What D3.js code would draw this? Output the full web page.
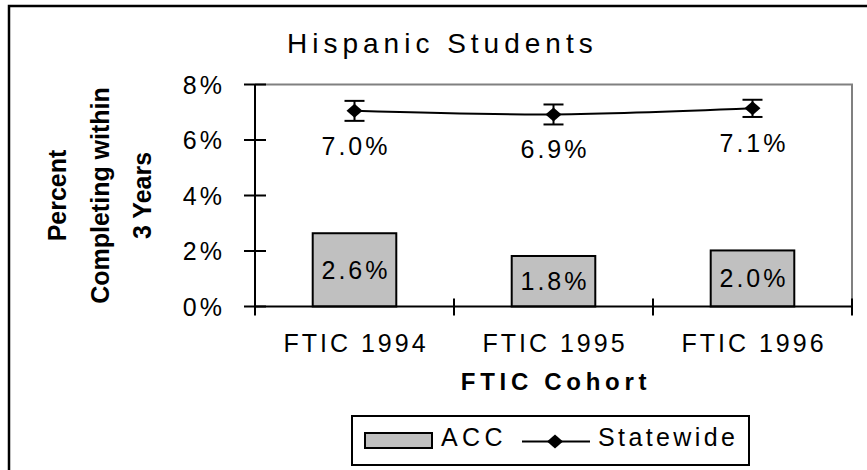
<!DOCTYPE html>
<html>
<head>
<meta charset="utf-8">
<script src="https://cdn.jsdelivr.net/npm/d3@7"></script>
<style>
  body { margin: 0; background: #fff; }
  svg text { font-family: "Liberation Sans", Arial, sans-serif; fill: #000; }
</style>
</head>
<body>
<svg id="chart" width="867" height="470"></svg>
<script>
const cohorts = ["FTIC 1994", "FTIC 1995", "FTIC 1996"]
const accValues = [0.0264, 0.0182, 0.0202]
const statewideValues = [0.0705, 0.0692, 0.0714]
const statewideErr = [0.0036, 0.0036, 0.0031]
const yTicks = [0, 0.02, 0.04, 0.06, 0.08]

const svg = d3.select('#chart')

// frame round the whole chart (only top and left show in the picture)
svg.append('path')
  .attr('d', 'M9,470 V6 H867')
  .attr('fill', 'none')
  .attr('stroke', '#000')
  .attr('stroke-width', 2.5)

const plotL = 255, plotR = 852, plotT = 84.5, plotB = 306.5

const x = d3.scaleBand()
  .domain(cohorts)
  .range([plotL, plotR])

const y = d3.scaleLinear()
  .domain([0, 0.08])
  .range([plotB, plotT])

const barW = x.bandwidth() * 0.42
const pct = d3.format('.1%')
const cx = d => x(d) + x.bandwidth() / 2

// plot border, gray on top and right
svg.append('path')
  .attr('d', `M${plotL},${plotT} H${plotR} V${plotB}`)
  .attr('fill', 'none')
  .attr('stroke', '#808080')
  .attr('stroke-width', 2)

// bars
svg.append('g')
  .selectAll('rect')
  .data(cohorts)
  .join('rect')
  .attr('x', (d) => cx(d) - barW / 2)
  .attr('y', (d, i) => y(accValues[i]))
  .attr('width', barW)
  .attr('height', (d, i) => y(0) - y(accValues[i]))
  .attr('fill', '#c0c0c0')
  .attr('stroke', '#000')
  .attr('stroke-width', 2)

svg.append('g')
  .selectAll('text')
  .data(cohorts)
  .join('text')
  .attr('x', d => cx(d) + 1.5)
  .attr('y', (d, i) => (y(accValues[i]) + y(0)) / 2)
  .attr('dy', '0.36em')
  .attr('text-anchor', 'middle')
  .style('font-size', '25px')
  .style('letter-spacing', '3px')
  .text((d, i) => pct(accValues[i]))

// y axis
const yAxis = svg.append('g')
yAxis.append('line')
  .attr('x1', plotL).attr('x2', plotL)
  .attr('y1', plotT).attr('y2', plotB)
  .attr('stroke', '#000').attr('stroke-width', 2)
yAxis.selectAll('line.tick')
  .data(yTicks)
  .join('line')
  .attr('class', 'tick')
  .attr('x1', plotL - 11).attr('x2', plotL + 11)
  .attr('y1', d => y(d)).attr('y2', d => y(d))
  .attr('stroke', '#000').attr('stroke-width', 2)
yAxis.selectAll('text')
  .data(yTicks)
  .join('text')
  .attr('x', 225)
  .attr('y', d => y(d))
  .attr('dy', '0.36em')
  .attr('text-anchor', 'end')
  .style('font-size', '25px')
  .style('letter-spacing', '3px')
  .text(d => d3.format('.0%')(d))

// x axis
const xAxis = svg.append('g')
xAxis.append('line')
  .attr('x1', plotL).attr('x2', plotR)
  .attr('y1', plotB).attr('y2', plotB)
  .attr('stroke', '#000').attr('stroke-width', 2)
xAxis.selectAll('line.tick')
  .data(cohorts.map(d => x(d)).concat([plotR]))
  .join('line')
  .attr('class', 'tick')
  .attr('x1', d => d).attr('x2', d => d)
  .attr('y1', plotB - 8).attr('y2', plotB + 9)
  .attr('stroke', '#000').attr('stroke-width', 2)
xAxis.selectAll('text')
  .data(cohorts)
  .join('text')
  .attr('x', d => cx(d) + 1.5)
  .attr('y', 352)
  .attr('text-anchor', 'middle')
  .style('font-size', '25px')
  .style('letter-spacing', '3px')
  .text(d => d)

// statewide line with error bars
const line = d3.line()
  .x((d, i) => cx(cohorts[i]))
  .y(d => y(d))
  .curve(d3.curveCatmullRom)

svg.append('path')
  .datum(statewideValues)
  .attr('d', line)
  .attr('fill', 'none')
  .attr('stroke', '#000')
  .attr('stroke-width', 2)

const err = svg.append('g')
  .selectAll('g')
  .data(cohorts)
  .join('g')
  .attr('stroke', '#000')
  .attr('stroke-width', 2)
err.append('line')
  .attr('x1', d => cx(d)).attr('x2', d => cx(d))
  .attr('y1', (d, i) => y(statewideValues[i] + statewideErr[i]))
  .attr('y2', (d, i) => y(statewideValues[i] - statewideErr[i]))
err.append('line')
  .attr('x1', d => cx(d) - 10).attr('x2', d => cx(d) + 10)
  .attr('y1', (d, i) => y(statewideValues[i] + statewideErr[i]))
  .attr('y2', (d, i) => y(statewideValues[i] + statewideErr[i]))
err.append('line')
  .attr('x1', d => cx(d) - 10).attr('x2', d => cx(d) + 10)
  .attr('y1', (d, i) => y(statewideValues[i] - statewideErr[i]))
  .attr('y2', (d, i) => y(statewideValues[i] - statewideErr[i]))

const diamond = (px, py, w, h) => `M${px - w},${py} L${px},${py - h} L${px + w},${py} L${px},${py + h} Z`

svg.append('g')
  .selectAll('path')
  .data(cohorts)
  .join('path')
  .attr('d', (d, i) => diamond(cx(d), y(statewideValues[i]), 8, 7))
  .attr('fill', '#000')

svg.append('g')
  .selectAll('text')
  .data(cohorts)
  .join('text')
  .attr('x', d => cx(d) + 1.5)
  .attr('y', (d, i) => y(statewideValues[i]) + 44)
  .attr('text-anchor', 'middle')
  .style('font-size', '25px')
  .style('letter-spacing', '3px')
  .text((d, i) => pct(statewideValues[i]))

// titles
svg.append('text')
  .attr('x', 287)
  .attr('y', 53)
  .style('font-size', '28px')
  .style('letter-spacing', '5px')
  .text('Hispanic Students')

svg.append('text')
  .attr('x', (plotL + plotR) / 2 + 2.5)
  .attr('y', 390)
  .attr('text-anchor', 'middle')
  .style('font-size', '24px')
  .style('font-weight', 'bold')
  .style('letter-spacing', '4.7px')
  .text('FTIC Cohort')

const yTitle = svg.append('text')
  .attr('transform', `translate(0,${(plotT + plotB) / 2}) rotate(-90)`)
  .attr('text-anchor', 'middle')
  .style('font-size', '25px')
  .style('font-weight', 'bold')
yTitle.selectAll('tspan')
  .data(['Percent', 'Completing within', '3 Years'])
  .join('tspan')
  .attr('x', 0)
  .attr('y', (d, i) => 66 + i * 42.5)
  .text(d => d)

// legend
const lg = svg.append('g')
lg.append('rect')
  .attr('x', 352).attr('y', 416)
  .attr('width', 397).attr('height', 49)
  .attr('fill', '#fff').attr('stroke', '#000').attr('stroke-width', 2)
lg.append('rect')
  .attr('x', 365).attr('y', 433)
  .attr('width', 67).attr('height', 15)
  .attr('fill', '#c0c0c0').attr('stroke', '#000').attr('stroke-width', 2)
lg.append('text')
  .attr('x', 441).attr('y', 446)
  .style('font-size', '25px')
  .style('letter-spacing', '4.4px')
  .text('ACC')
lg.append('line')
  .attr('x1', 522).attr('x2', 590)
  .attr('y1', 441.5).attr('y2', 441.5)
  .attr('stroke', '#000').attr('stroke-width', 2)
lg.append('path')
  .attr('d', diamond(555, 441.5, 8, 7))
  .attr('fill', '#000')
lg.append('text')
  .attr('x', 598).attr('y', 446)
  .style('font-size', '25px')
  .style('letter-spacing', '3.4px')
  .text('Statewide')
</script>
</body>
</html>
